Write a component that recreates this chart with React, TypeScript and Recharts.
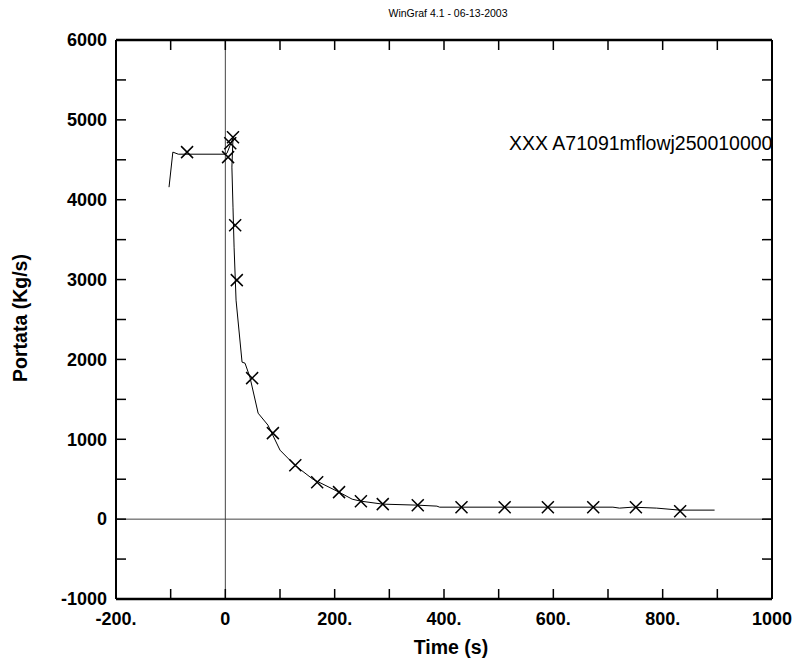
import React from 'react';
import { ComposedChart, Line, Scatter, XAxis, YAxis, ReferenceLine } from 'recharts';

// transient curve (time s, flow kg/s)
const lineTime = [
  -103, -96, -86, 1, 3, 14, 12, 14, 16, 19.6, 30.6, 36, 45, 60, 78, 100, 127, 160, 208, 232, 248, 288, 352, 387,
  392, 709, 721, 745, 789, 831, 895,
];
const lineFlow = [
  4157, 4596, 4570, 4570, 4583, 4771, 4408, 3907, 3406, 2742, 1966, 1953, 1778, 1327, 1177, 864, 676, 501, 338,
  250, 225, 188, 175, 163, 150, 150, 138, 150, 138, 113, 113,
];

// measured points (X markers)
const markTime = [-70, 5, 9, 14, 18, 21, 49, 87, 128, 168, 208, 248, 288, 352, 432, 511, 590, 673, 751, 832];
const markFlow = [
  4596, 4533, 4708, 4783, 3681, 2993, 1766, 1077, 676, 463, 338, 225, 188, 175, 150, 150, 150, 150, 150, 100,
];

const xTicks = [-200, -100, 0, 100, 200, 300, 400, 500, 600, 700, 800, 900, 1000];
const yTicks = [-1000, -500, 0, 500, 1000, 1500, 2000, 2500, 3000, 3500, 4000, 4500, 5000, 5500, 6000];

const lineData = lineTime.map((x, i) => ({ x, y: lineFlow[i] }));
const markData = markTime.map((x, i) => ({ x, y: markFlow[i] }));

const W = 793;
const H = 667;
const LEFT = 116;
const RIGHT = 772;
const TOP = 40;
const FONT = '"Liberation Sans", Arial, Helvetica, sans-serif';

const fmtX = (v: number) => (v === 0 ? '0' : v === 1000 ? '1000' : `${v}.`);

const XTick = (props: any) => {
  const { x, y, payload } = props;
  const v = payload.value as number;
  const labeled = v % 200 === 0;
  return (
    <g>
      <line x1={x} x2={x} y1={y} y2={y - 10} stroke="#000" strokeWidth={1.5} />
      <line x1={x} x2={x} y1={TOP} y2={TOP + 10} stroke="#000" strokeWidth={1.5} />
      {labeled && (
        <text x={x} y={y + 20} dy="0.35em" textAnchor="middle" fontFamily={FONT} fontWeight="bold" fontSize={18} fill="#000">
          {fmtX(v)}
        </text>
      )}
    </g>
  );
};

const YTick = (props: any) => {
  const { x, y, payload } = props;
  const v = payload.value as number;
  const labeled = v % 1000 === 0;
  return (
    <g>
      <line x1={x} x2={x + 10} y1={y} y2={y} stroke="#000" strokeWidth={1.5} />
      <line x1={RIGHT} x2={RIGHT - 10} y1={y} y2={y} stroke="#000" strokeWidth={1.5} />
      {labeled && (
        <text x={x - 9} y={y} dy="0.35em" textAnchor="end" fontFamily={FONT} fontWeight="bold" fontSize={18} fill="#000">
          {v}
        </text>
      )}
    </g>
  );
};

const Cross = (props: any) => {
  const { cx, cy } = props;
  if (cx == null || cy == null) return null;
  const s = 6;
  return (
    <path
      d={`M${cx - s},${cy - s}L${cx + s},${cy + s}M${cx + s},${cy - s}L${cx - s},${cy + s}`}
      stroke="#000"
      strokeWidth={1.5}
      fill="none"
    />
  );
};

export default function App() {
  return (
    <div style={{ position: 'absolute', left: 0, top: 0, width: W, height: H, background: '#fff' }}>
      <ComposedChart
        width={W}
        height={H}
        margin={{ top: TOP, right: W - RIGHT, left: LEFT - 60, bottom: 28 }}
      >
        <XAxis
          type="number"
          dataKey="x"
          domain={[-200, 1000]}
          ticks={xTicks}
          interval={0}
          tickSize={0}
          tickMargin={0}
          tickLine={false}
          tick={XTick}
          height={40}
          axisLine={{ stroke: '#000', strokeWidth: 2.5 }}
          allowDataOverflow
        />
        <YAxis
          type="number"
          domain={[-1000, 6000]}
          ticks={yTicks}
          interval={0}
          tickSize={0}
          tickMargin={0}
          tickLine={false}
          tick={YTick}
          width={60}
          axisLine={{ stroke: '#000', strokeWidth: 2 }}
          allowDataOverflow
        />
        <ReferenceLine x={0} stroke="#444" strokeWidth={1} />
        <ReferenceLine y={0} stroke="#444" strokeWidth={1} />
        <ReferenceLine y={6000} stroke="#000" strokeWidth={2.5} />
        <ReferenceLine x={1000} stroke="#000" strokeWidth={2} />
        <Line
          data={lineData}
          dataKey="y"
          type="linear"
          stroke="#000"
          strokeWidth={1}
          dot={false}
          activeDot={false}
          isAnimationActive={false}
        />
        <Scatter data={markData} dataKey="y" shape={Cross} isAnimationActive={false} />
      </ComposedChart>
      <svg width={W} height={H} style={{ position: 'absolute', left: 0, top: 0, pointerEvents: 'none' }}>
        <text x={448} y={13} dy="0.35em" textAnchor="middle" fontFamily={FONT} fontSize={10.5} fill="#000">
          WinGraf 4.1 - 06-13-2003
        </text>
        <text x={509} y={143} dy="0.35em" fontFamily={FONT} fontSize={19.5} fill="#000">
          XXX A71091mflowj250010000
        </text>
        <text x={451} y={647} dy="0.35em" textAnchor="middle" fontFamily={FONT} fontWeight="bold" fontSize={19.5} fill="#000">
          Time (s)
        </text>
        <text
          x={20}
          y={318}
          dy="0.35em"
          textAnchor="middle"
          fontFamily={FONT}
          fontWeight="bold"
          fontSize={19.5}
          fill="#000"
          transform="rotate(-90 20 318)"
        >
          Portata (Kg/s)
        </text>
      </svg>
    </div>
  );
}
